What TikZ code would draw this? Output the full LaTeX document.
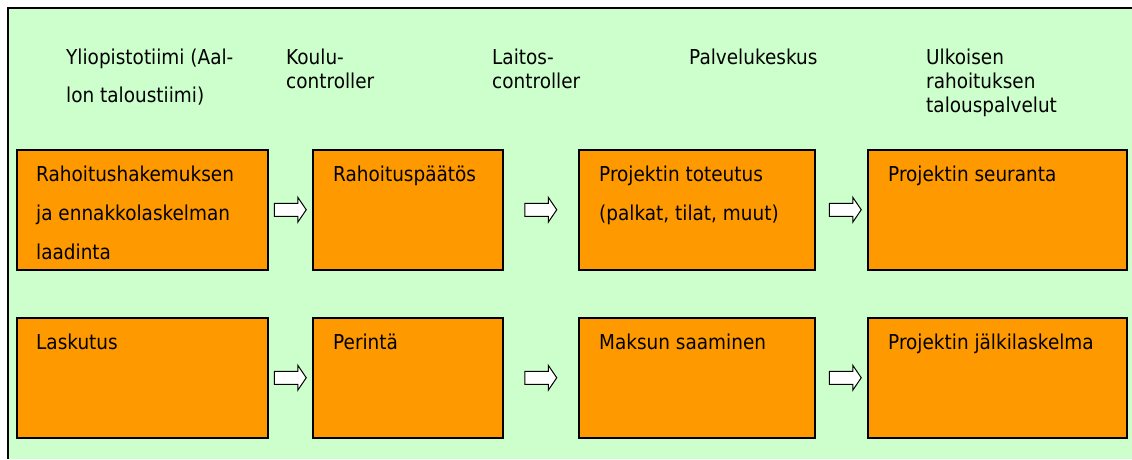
\documentclass[tikz,border=0pt]{standalone}
\usepackage{fontspec}
\setmainfont{DejaVu Sans}[FakeStretch=0.9]
\usetikzlibrary{calc}
\definecolor{panelgreen}{HTML}{CCFFCC}
\definecolor{taskorange}{HTML}{FF9900}

\tikzset{
  task/.style={draw=black, line width=1.5pt, fill=taskorange, anchor=north west,
    minimum height=120pt, inner sep=0pt},
  % anchor "base" of a multi-line node sits on its last line
  tasktext/.style={anchor=base west, align=left, inner sep=0pt,
    font=\fontsize{20.5}{39}\selectfont},
  head/.style={anchor=base west, align=left, inner sep=0pt,
    font=\fontsize{20.5}{24}\selectfont},
  flowarrow/.pic={
    \draw[black, line width=1pt, fill=white, line join=miter]
      (-16,-6.5) -- (7.5,-6.5) -- (7.5,-12.5) -- (16,0) -- (7.5,12.5)
      -- (7.5,6.5) -- (-16,6.5) -- cycle;
  }
}

\begin{document}
\begin{tikzpicture}[x=1pt, y=-1pt]
\useasboundingbox (0,0) rectangle (1132,459);

% panel
\fill[panelgreen] (8,8) rectangle (1132,459);
\draw[line width=1.5pt] (8,459) -- (8,8) -- (1132,8);

% column headings (positions give the baseline of the last line)
\node[head, font=\fontsize{20.5}{38}\selectfont] (h1) at (66,102) {Yliopistotiimi (Aal-\\lon taloustiimi)};
\node[head] (h2) at (286,88) {Koulu-\\controller};
\node[head] (h3) at (492,88) {Laitos-\\controller};
\node[head] (h4) at (689,64) {Palvelukeskus};
\node[head] (h5) at (926,112) {Ulkoisen\\rahoituksen\\talouspalvelut};

% first row
\node[task, minimum width=251pt] (a1) at (16,149) {};
\node[task, minimum width=190pt] (a2) at (312,149) {};
\node[task, minimum width=236pt] (a3) at (578,149) {};
\node[task, minimum width=259pt] (a4) at (867,149) {};

% second row
\node[task, minimum width=251pt] (b1) at (16,317) {};
\node[task, minimum width=190pt] (b2) at (312,317) {};
\node[task, minimum width=236pt] (b3) at (578,317) {};
\node[task, minimum width=259pt] (b4) at (867,317) {};

% box texts
\node[tasktext] (ta1) at ([xshift=20pt, yshift=-110pt]a1.north west) {Rahoitushakemuksen\\ja ennakkolaskelman\\laadinta};
\node[tasktext] (ta2) at ([xshift=21pt, yshift=-32pt]a2.north west) {Rahoituspäätös};
\node[tasktext] (ta3) at ([xshift=21pt, yshift=-71pt]a3.north west) {Projektin toteutus\\(palkat, tilat, muut)};
\node[tasktext] (ta4) at ([xshift=21pt, yshift=-32pt]a4.north west) {Projektin seuranta};
\node[tasktext] (tb1) at ([xshift=20pt, yshift=-32pt]b1.north west) {Laskutus};
\node[tasktext] (tb2) at ([xshift=21pt, yshift=-32pt]b2.north west) {Perintä};
\node[tasktext] (tb3) at ([xshift=21pt, yshift=-32pt]b3.north west) {Maksun saaminen};
\node[tasktext] (tb4) at ([xshift=21pt, yshift=-32pt]b4.north west) {Projektin jälkilaskelma};

% flow arrows
\pic at ($(a1.east)!0.5!(a2.west)$) {flowarrow};
\pic at ($(a2.east)!0.5!(a3.west)$) {flowarrow};
\pic at ($(a3.east)!0.5!(a4.west)+(4,0)$) {flowarrow};
\pic at ($(b1.east)!0.5!(b2.west)$) {flowarrow};
\pic at ($(b2.east)!0.5!(b3.west)$) {flowarrow};
\pic at ($(b3.east)!0.5!(b4.west)+(4,0)$) {flowarrow};
\end{tikzpicture}
\end{document}
